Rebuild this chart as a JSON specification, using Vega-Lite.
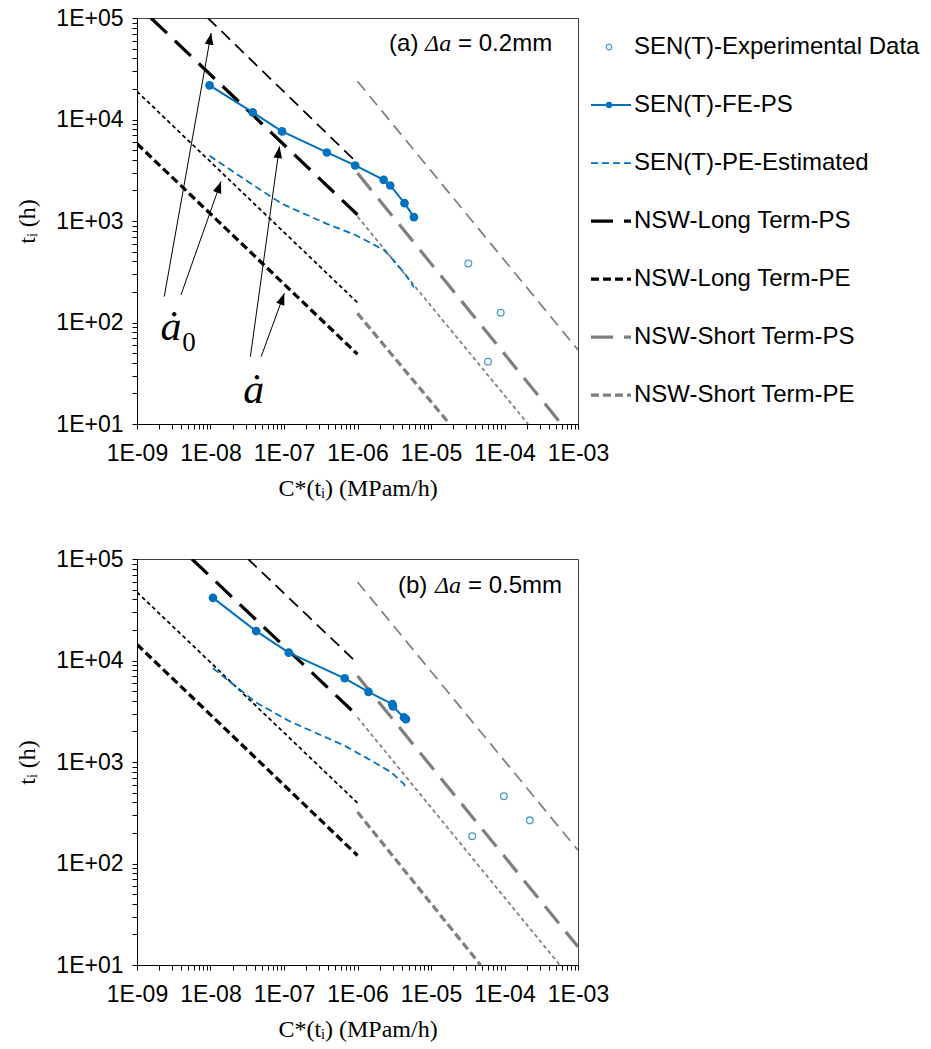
{
  "$schema": "https://vega.github.io/schema/vega-lite/v6.json",
  "background": "white",
  "padding": {"left": 15, "top": 6, "right": 5, "bottom": 5},
  "config": {
    "view": {"stroke": "#404040", "strokeWidth": 1},
    "axis": {"grid": false, "domainColor": "#000000", "tickColor": "#000000", "labelColor": "#000000", "titleColor": "#000000", "labelFont": "Liberation Sans", "labelFontSize": 23, "titleFont": "Liberation Serif", "titleFontSize": 24, "titleFontWeight": "normal", "tickSize": 5, "labelOverlap": false, "labelFlush": false, "labelBound": false}
  },
  "datasets": {
    "nsw": [
      {"panel": "a", "style": "LPS-a0", "x": 9.2e-9, "y": 100000}, {"panel": "a", "style": "LPS-a0", "x": 1e-6, "y": 3715},
      {"panel": "a", "style": "LPS-a", "x": 1.55e-9, "y": 100000}, {"panel": "a", "style": "LPS-a", "x": 1e-6, "y": 1151},
      {"panel": "a", "style": "LPE-a0", "x": 1e-9, "y": 18900}, {"panel": "a", "style": "LPE-a0", "x": 1e-6, "y": 157},
      {"panel": "a", "style": "LPE-a", "x": 1e-9, "y": 5770}, {"panel": "a", "style": "LPE-a", "x": 1e-6, "y": 48.7},
      {"panel": "a", "style": "SPS-a0", "x": 1e-6, "y": 23800}, {"panel": "a", "style": "SPS-a0", "x": 0.001, "y": 53.7},
      {"panel": "a", "style": "SPS-a", "x": 1e-6, "y": 2965}, {"panel": "a", "style": "SPS-a", "x": 5.94e-4, "y": 10},
      {"panel": "a", "style": "SPE-a0", "x": 1e-6, "y": 1107}, {"panel": "a", "style": "SPE-a0", "x": 2.09e-4, "y": 10},
      {"panel": "a", "style": "SPE-a", "x": 1e-6, "y": 123}, {"panel": "a", "style": "SPE-a", "x": 1.79e-5, "y": 10},
      {"panel": "b", "style": "LPS-a0", "x": 3.24e-8, "y": 100000}, {"panel": "b", "style": "LPS-a0", "x": 1e-6, "y": 9380},
      {"panel": "b", "style": "LPS-a", "x": 5.58e-9, "y": 100000}, {"panel": "b", "style": "LPS-a", "x": 1e-6, "y": 2852},
      {"panel": "b", "style": "LPE-a0", "x": 1e-9, "y": 47100}, {"panel": "b", "style": "LPE-a0", "x": 1e-6, "y": 395},
      {"panel": "b", "style": "LPE-a", "x": 1e-9, "y": 14400}, {"panel": "b", "style": "LPE-a", "x": 1e-6, "y": 120},
      {"panel": "b", "style": "SPS-a0", "x": 1e-6, "y": 59400}, {"panel": "b", "style": "SPS-a0", "x": 0.001, "y": 135},
      {"panel": "b", "style": "SPS-a", "x": 1e-6, "y": 7050}, {"panel": "b", "style": "SPS-a", "x": 0.001, "y": 15.1},
      {"panel": "b", "style": "SPE-a0", "x": 1e-6, "y": 2748}, {"panel": "b", "style": "SPE-a0", "x": 5.65e-4, "y": 10},
      {"panel": "b", "style": "SPE-a", "x": 1e-6, "y": 321}, {"panel": "b", "style": "SPE-a", "x": 4.72e-5, "y": 10}
    ],
    "fe": [
      {"panel": "a", "x": 9.7e-9, "y": 21700}, {"panel": "a", "x": 3.76e-8, "y": 11750}, {"panel": "a", "x": 9.4e-8, "y": 7630},
      {"panel": "a", "x": 3.83e-7, "y": 4735}, {"panel": "a", "x": 9.3e-7, "y": 3525}, {"panel": "a", "x": 2.27e-6, "y": 2545},
      {"panel": "a", "x": 2.79e-6, "y": 2239}, {"panel": "a", "x": 4.36e-6, "y": 1500}, {"panel": "a", "x": 5.86e-6, "y": 1091},
      {"panel": "b", "x": 1.08e-8, "y": 41400}, {"panel": "b", "x": 4.18e-8, "y": 19500}, {"panel": "b", "x": 1.16e-7, "y": 11940},
      {"panel": "b", "x": 6.7e-7, "y": 6680}, {"panel": "b", "x": 1.41e-6, "y": 4910}, {"panel": "b", "x": 2.98e-6, "y": 3715},
      {"panel": "b", "x": 3.04e-6, "y": 3525}, {"panel": "b", "x": 4.28e-6, "y": 2748}, {"panel": "b", "x": 4.56e-6, "y": 2642}
    ],
    "pe": [
      {"panel": "a", "x": 9.7e-9, "y": 4390}, {"panel": "a", "x": 3.76e-8, "y": 2275}, {"panel": "a", "x": 9.4e-8, "y": 1476},
      {"panel": "a", "x": 3.83e-7, "y": 938}, {"panel": "a", "x": 9.3e-7, "y": 731}, {"panel": "a", "x": 2.27e-6, "y": 520},
      {"panel": "a", "x": 2.79e-6, "y": 447}, {"panel": "a", "x": 4.36e-6, "y": 306}, {"panel": "a", "x": 5.86e-6, "y": 223},
      {"panel": "b", "x": 1.08e-8, "y": 8380}, {"panel": "b", "x": 4.18e-8, "y": 3855}, {"panel": "b", "x": 1.16e-7, "y": 2545},
      {"panel": "b", "x": 6.7e-7, "y": 1445}, {"panel": "b", "x": 1.41e-6, "y": 1069}, {"panel": "b", "x": 2.98e-6, "y": 780},
      {"panel": "b", "x": 3.04e-6, "y": 762}, {"panel": "b", "x": 4.28e-6, "y": 608}, {"panel": "b", "x": 4.56e-6, "y": 543}
    ],
    "exp": [
      {"panel": "a", "x": 3.22e-5, "y": 381}, {"panel": "a", "x": 8.87e-5, "y": 125}, {"panel": "a", "x": 5.96e-5, "y": 41},
      {"panel": "b", "x": 3.64e-5, "y": 186}, {"panel": "b", "x": 9.8e-5, "y": 460}, {"panel": "b", "x": 2.21e-4, "y": 266}
    ],
    "arrows": [
      {"k": 1, "x": 1.02e-8, "y": 71100, "x2": 2.35e-9, "y2": 180},
      {"k": 2, "x": 1.39e-8, "y": 2449, "x2": 3.97e-9, "y2": 187},
      {"k": 3, "x": 8.67e-8, "y": 5430, "x2": 3.49e-8, "y2": 46.1},
      {"k": 4, "x": 1.01e-7, "y": 194, "x2": 4.89e-8, "y2": 46.1}
    ],
    "leg": [
      {"label": "SEN(T)-Experimental Data", "style": "EXP"},
      {"label": "SEN(T)-FE-PS", "style": "FE"},
      {"label": "SEN(T)-PE-Estimated", "style": "PE"},
      {"label": "NSW-Long Term-PS", "style": "LPS-a"},
      {"label": "NSW-Long Term-PE", "style": "LPE-a"},
      {"label": "NSW-Short Term-PS", "style": "SPS-a"},
      {"label": "NSW-Short Term-PE", "style": "SPE-a"}
    ]
  },
  "spacing": 46,
  "vconcat": [
    {
      "bounds": "flush",
      "spacing": 13,
      "hconcat": [
        {
          "width": 441,
          "height": 406,
          "encoding": {
            "x": {"field": "x", "type": "quantitative", "scale": {"type": "log", "domain": [1e-9, 0.001], "nice": false},
              "axis": {"title": "C*(tᵢ) (MPam/h)", "labelPadding": 13, "titlePadding": 11,
                "values": [1e-9,2e-9,3e-9,4e-9,5e-9,6e-9,7e-9,8e-9,9e-9,1e-8,2e-8,3e-8,4e-8,5e-8,6e-8,7e-8,8e-8,9e-8,1e-7,2e-7,3e-7,4e-7,5e-7,6e-7,7e-7,8e-7,9e-7,1e-6,2e-6,3e-6,4e-6,5e-6,6e-6,7e-6,8e-6,9e-6,1e-5,2e-5,3e-5,4e-5,5e-5,6e-5,7e-5,8e-5,9e-5,1e-4,2e-4,3e-4,4e-4,5e-4,6e-4,7e-4,8e-4,9e-4,1e-3],
                "labelExpr": "abs(log(datum.value)/LN10 - round(log(datum.value)/LN10)) < 0.001 ? ('1E' + (datum.value < 1 ? '-' : '+') + (abs(round(log(datum.value)/LN10)) < 10 ? '0' : '') + abs(round(log(datum.value)/LN10))) : ''"}},
            "y": {"field": "y", "type": "quantitative", "scale": {"type": "log", "domain": [10, 100000], "nice": false},
              "axis": {"title": "tᵢ (h)", "labelPadding": 9, "titlePadding": 16,
                "values": [10,20,30,40,50,60,70,80,90,100,200,300,400,500,600,700,800,900,1000,2000,3000,4000,5000,6000,7000,8000,9000,10000,20000,30000,40000,50000,60000,70000,80000,90000,100000],
                "labelExpr": "abs(log(datum.value)/LN10 - round(log(datum.value)/LN10)) < 0.001 ? ('1E' + (datum.value < 1 ? '-' : '+') + (abs(round(log(datum.value)/LN10)) < 10 ? '0' : '') + abs(round(log(datum.value)/LN10))) : ''"}}
          },
          "layer": [
            {
              "data": {"name": "nsw"},
              "transform": [{"filter": "datum.panel == 'a'"}],
              "mark": {"type": "line", "clip": true, "strokeCap": "butt"},
              "encoding": {
                "detail": {"field": "style", "type": "nominal"},
                "color": {"field": "style", "type": "nominal", "legend": null, "scale": {"domain": ["FE","PE","LPS-a","LPS-a0","LPE-a","LPE-a0","SPS-a","SPS-a0","SPE-a","SPE-a0"], "range": ["#0070C0","#0070C0","#000000","#000000","#000000","#000000","#808080","#808080","#808080","#808080"]}},
                "strokeDash": {"field": "style", "type": "nominal", "legend": null, "scale": {"domain": ["FE","PE","LPS-a","LPS-a0","LPE-a","LPE-a0","SPS-a","SPS-a0","SPE-a","SPE-a0"], "range": [[1,0],[7,4],[22,11],[12,7],[8,4],[4,3],[22,11],[12,7],[8,4],[4,3]]}},
                "strokeWidth": {"field": "style", "type": "nominal", "legend": null, "scale": {"type": "ordinal", "domain": ["FE","PE","LPS-a","LPS-a0","LPE-a","LPE-a0","SPS-a","SPS-a0","SPE-a","SPE-a0"], "range": [2,1.75,3.25,1.75,3.25,1.75,3.25,1.75,3.25,1.75]}}
              }
            },
            {
              "data": {"name": "pe"},
              "transform": [{"filter": "datum.panel == 'a'"}],
              "mark": {"type": "line", "clip": true, "color": "#0070C0", "strokeWidth": 1.75, "strokeDash": [7, 4]}
            },
            {
              "data": {"name": "fe"},
              "transform": [{"filter": "datum.panel == 'a'"}],
              "mark": {"type": "line", "color": "#0070C0", "strokeWidth": 2, "point": {"filled": true, "size": 75, "color": "#0070C0"}}
            },
            {
              "data": {"name": "exp"},
              "transform": [{"filter": "datum.panel == 'a'"}],
              "mark": {"type": "point", "shape": "circle", "filled": false, "color": "#0070C0", "size": 45, "strokeWidth": 1.3}
            },
            {
              "data": {"name": "arrows"},
              "mark": {"type": "rule", "color": "#000000", "strokeWidth": 1},
              "encoding": {"x2": {"field": "x2"}, "y2": {"field": "y2"}}
            },
            {
              "data": {"name": "arrows"},
              "mark": {"type": "point", "shape": "M0,0L-0.5,1.35L0.5,1.35Z", "filled": true, "color": "#000000", "size": 300, "opacity": 1},
              "encoding": {"angle": {"field": "k", "type": "quantitative", "legend": null, "scale": {"domain": [1, 2, 3, 4], "range": [10, 19.4, 7.9, 20.2]}}}
            },
            {
              "data": {"values": [{"t": "ȧ", "x": 2.9e-9, "y": 67.3}, {"t": "ȧ", "x": 3.88e-8, "y": 16.0}]},
              "mark": {"type": "text", "font": "Liberation Serif", "fontStyle": "italic", "fontSize": 42, "align": "center", "baseline": "alphabetic", "color": "#000000"},
              "encoding": {"text": {"field": "t"}}
            },
            {
              "data": {"values": [{"t": "0", "x": 5.1e-9, "y": 52}]},
              "mark": {"type": "text", "font": "Liberation Serif", "fontSize": 27, "align": "center", "baseline": "alphabetic", "color": "#000000"},
              "encoding": {"text": {"field": "t"}}
            },
            {
              "data": {"values": [{"t": "(a)", "x": 2.69e-6, "y": 46800}]},
              "mark": {"type": "text", "font": "Liberation Sans", "fontSize": 24, "align": "left", "baseline": "alphabetic", "color": "#000000"},
              "encoding": {"text": {"field": "t"}}
            },
            {
              "data": {"values": [{"t": "Δa", "x": 2.69e-6, "y": 46800}]},
              "mark": {"type": "text", "font": "Liberation Serif", "fontStyle": "italic", "fontSize": 24, "align": "left", "baseline": "alphabetic", "dx": 36, "color": "#000000"},
              "encoding": {"text": {"field": "t"}}
            },
            {
              "data": {"values": [{"t": "= 0.2mm", "x": 2.69e-6, "y": 46800}]},
              "mark": {"type": "text", "font": "Liberation Sans", "fontSize": 24, "align": "left", "baseline": "alphabetic", "dx": 69, "color": "#000000"},
              "encoding": {"text": {"field": "t"}}
            }
          ]
        },
        {
          "width": 335,
          "height": 406,
          "view": {"stroke": null},
          "data": {"name": "leg"},
          "encoding": {
            "y": {"field": "label", "type": "nominal", "axis": null, "scale": {"type": "point", "padding": 0.5, "domain": ["SEN(T)-Experimental Data","SEN(T)-FE-PS","SEN(T)-PE-Estimated","NSW-Long Term-PS","NSW-Long Term-PE","NSW-Short Term-PS","NSW-Short Term-PE"]}}
          },
          "layer": [
            {
              "transform": [{"filter": "datum.style != 'EXP'"}],
              "mark": {"type": "rule", "strokeCap": "butt"},
              "encoding": {
                "x": {"datum": 0, "type": "quantitative", "axis": null, "scale": {"domain": [0, 335], "nice": false, "zero": false}},
                "x2": {"datum": 40},
                "color": {"field": "style", "type": "nominal", "legend": null, "scale": {"domain": ["FE","PE","LPS-a","LPS-a0","LPE-a","LPE-a0","SPS-a","SPS-a0","SPE-a","SPE-a0"], "range": ["#0070C0","#0070C0","#000000","#000000","#000000","#000000","#808080","#808080","#808080","#808080"]}},
                "strokeDash": {"field": "style", "type": "nominal", "legend": null, "scale": {"domain": ["FE","PE","LPS-a","LPS-a0","LPE-a","LPE-a0","SPS-a","SPS-a0","SPE-a","SPE-a0"], "range": [[1,0],[7,4],[22,11],[12,7],[8,4],[4,3],[22,11],[12,7],[8,4],[4,3]]}},
                "strokeWidth": {"field": "style", "type": "nominal", "legend": null, "scale": {"type": "ordinal", "domain": ["FE","PE","LPS-a","LPS-a0","LPE-a","LPE-a0","SPS-a","SPS-a0","SPE-a","SPE-a0"], "range": [2,1.75,3.25,1.75,3.25,1.75,3.25,1.75,3.25,1.75]}}
              }
            },
            {
              "transform": [{"filter": "datum.style == 'FE'"}],
              "mark": {"type": "point", "shape": "circle", "filled": true, "color": "#0070C0", "size": 40, "opacity": 1},
              "encoding": {"x": {"datum": 18, "type": "quantitative"}}
            },
            {
              "transform": [{"filter": "datum.style == 'EXP'"}],
              "mark": {"type": "point", "shape": "circle", "filled": false, "color": "#0070C0", "size": 32, "strokeWidth": 1.2},
              "encoding": {"x": {"datum": 18, "type": "quantitative"}}
            },
            {
              "mark": {"type": "text", "align": "left", "baseline": "middle", "font": "Liberation Sans", "fontSize": 24, "color": "#000000"},
              "encoding": {"x": {"datum": 43, "type": "quantitative"}, "text": {"field": "label"}}
            }
          ]
        }
      ]
    },
    {
      "width": 441,
      "height": 406,
      "encoding": {
        "x": {"field": "x", "type": "quantitative", "scale": {"type": "log", "domain": [1e-9, 0.001], "nice": false},
          "axis": {"title": "C*(tᵢ) (MPam/h)", "labelPadding": 13, "titlePadding": 11,
            "values": [1e-9,2e-9,3e-9,4e-9,5e-9,6e-9,7e-9,8e-9,9e-9,1e-8,2e-8,3e-8,4e-8,5e-8,6e-8,7e-8,8e-8,9e-8,1e-7,2e-7,3e-7,4e-7,5e-7,6e-7,7e-7,8e-7,9e-7,1e-6,2e-6,3e-6,4e-6,5e-6,6e-6,7e-6,8e-6,9e-6,1e-5,2e-5,3e-5,4e-5,5e-5,6e-5,7e-5,8e-5,9e-5,1e-4,2e-4,3e-4,4e-4,5e-4,6e-4,7e-4,8e-4,9e-4,1e-3],
            "labelExpr": "abs(log(datum.value)/LN10 - round(log(datum.value)/LN10)) < 0.001 ? ('1E' + (datum.value < 1 ? '-' : '+') + (abs(round(log(datum.value)/LN10)) < 10 ? '0' : '') + abs(round(log(datum.value)/LN10))) : ''"}},
        "y": {"field": "y", "type": "quantitative", "scale": {"type": "log", "domain": [10, 100000], "nice": false},
          "axis": {"title": "tᵢ (h)", "labelPadding": 9, "titlePadding": 16,
            "values": [10,20,30,40,50,60,70,80,90,100,200,300,400,500,600,700,800,900,1000,2000,3000,4000,5000,6000,7000,8000,9000,10000,20000,30000,40000,50000,60000,70000,80000,90000,100000],
            "labelExpr": "abs(log(datum.value)/LN10 - round(log(datum.value)/LN10)) < 0.001 ? ('1E' + (datum.value < 1 ? '-' : '+') + (abs(round(log(datum.value)/LN10)) < 10 ? '0' : '') + abs(round(log(datum.value)/LN10))) : ''"}}
      },
      "layer": [
        {
          "data": {"name": "nsw"},
          "transform": [{"filter": "datum.panel == 'b'"}],
          "mark": {"type": "line", "clip": true, "strokeCap": "butt"},
          "encoding": {
            "detail": {"field": "style", "type": "nominal"},
            "color": {"field": "style", "type": "nominal", "legend": null, "scale": {"domain": ["FE","PE","LPS-a","LPS-a0","LPE-a","LPE-a0","SPS-a","SPS-a0","SPE-a","SPE-a0"], "range": ["#0070C0","#0070C0","#000000","#000000","#000000","#000000","#808080","#808080","#808080","#808080"]}},
            "strokeDash": {"field": "style", "type": "nominal", "legend": null, "scale": {"domain": ["FE","PE","LPS-a","LPS-a0","LPE-a","LPE-a0","SPS-a","SPS-a0","SPE-a","SPE-a0"], "range": [[1,0],[7,4],[22,11],[12,7],[8,4],[4,3],[22,11],[12,7],[8,4],[4,3]]}},
            "strokeWidth": {"field": "style", "type": "nominal", "legend": null, "scale": {"type": "ordinal", "domain": ["FE","PE","LPS-a","LPS-a0","LPE-a","LPE-a0","SPS-a","SPS-a0","SPE-a","SPE-a0"], "range": [2,1.75,3.25,1.75,3.25,1.75,3.25,1.75,3.25,1.75]}}
          }
        },
        {
          "data": {"name": "pe"},
          "transform": [{"filter": "datum.panel == 'b'"}],
          "mark": {"type": "line", "clip": true, "color": "#0070C0", "strokeWidth": 1.75, "strokeDash": [7, 4]}
        },
        {
          "data": {"name": "fe"},
          "transform": [{"filter": "datum.panel == 'b'"}],
          "mark": {"type": "line", "color": "#0070C0", "strokeWidth": 2, "point": {"filled": true, "size": 75, "color": "#0070C0"}}
        },
        {
          "data": {"name": "exp"},
          "transform": [{"filter": "datum.panel == 'b'"}],
          "mark": {"type": "point", "shape": "circle", "filled": false, "color": "#0070C0", "size": 45, "strokeWidth": 1.3}
        },
        {
          "data": {"values": [{"t": "(b)", "x": 3.56e-6, "y": 45900}]},
          "mark": {"type": "text", "font": "Liberation Sans", "fontSize": 24, "align": "left", "baseline": "alphabetic", "color": "#000000"},
          "encoding": {"text": {"field": "t"}}
        },
        {
          "data": {"values": [{"t": "Δa", "x": 3.56e-6, "y": 45900}]},
          "mark": {"type": "text", "font": "Liberation Serif", "fontStyle": "italic", "fontSize": 24, "align": "left", "baseline": "alphabetic", "dx": 37, "color": "#000000"},
          "encoding": {"text": {"field": "t"}}
        },
        {
          "data": {"values": [{"t": "= 0.5mm", "x": 3.56e-6, "y": 45900}]},
          "mark": {"type": "text", "font": "Liberation Sans", "fontSize": 24, "align": "left", "baseline": "alphabetic", "dx": 70, "color": "#000000"},
          "encoding": {"text": {"field": "t"}}
        }
      ]
    }
  ]
}
